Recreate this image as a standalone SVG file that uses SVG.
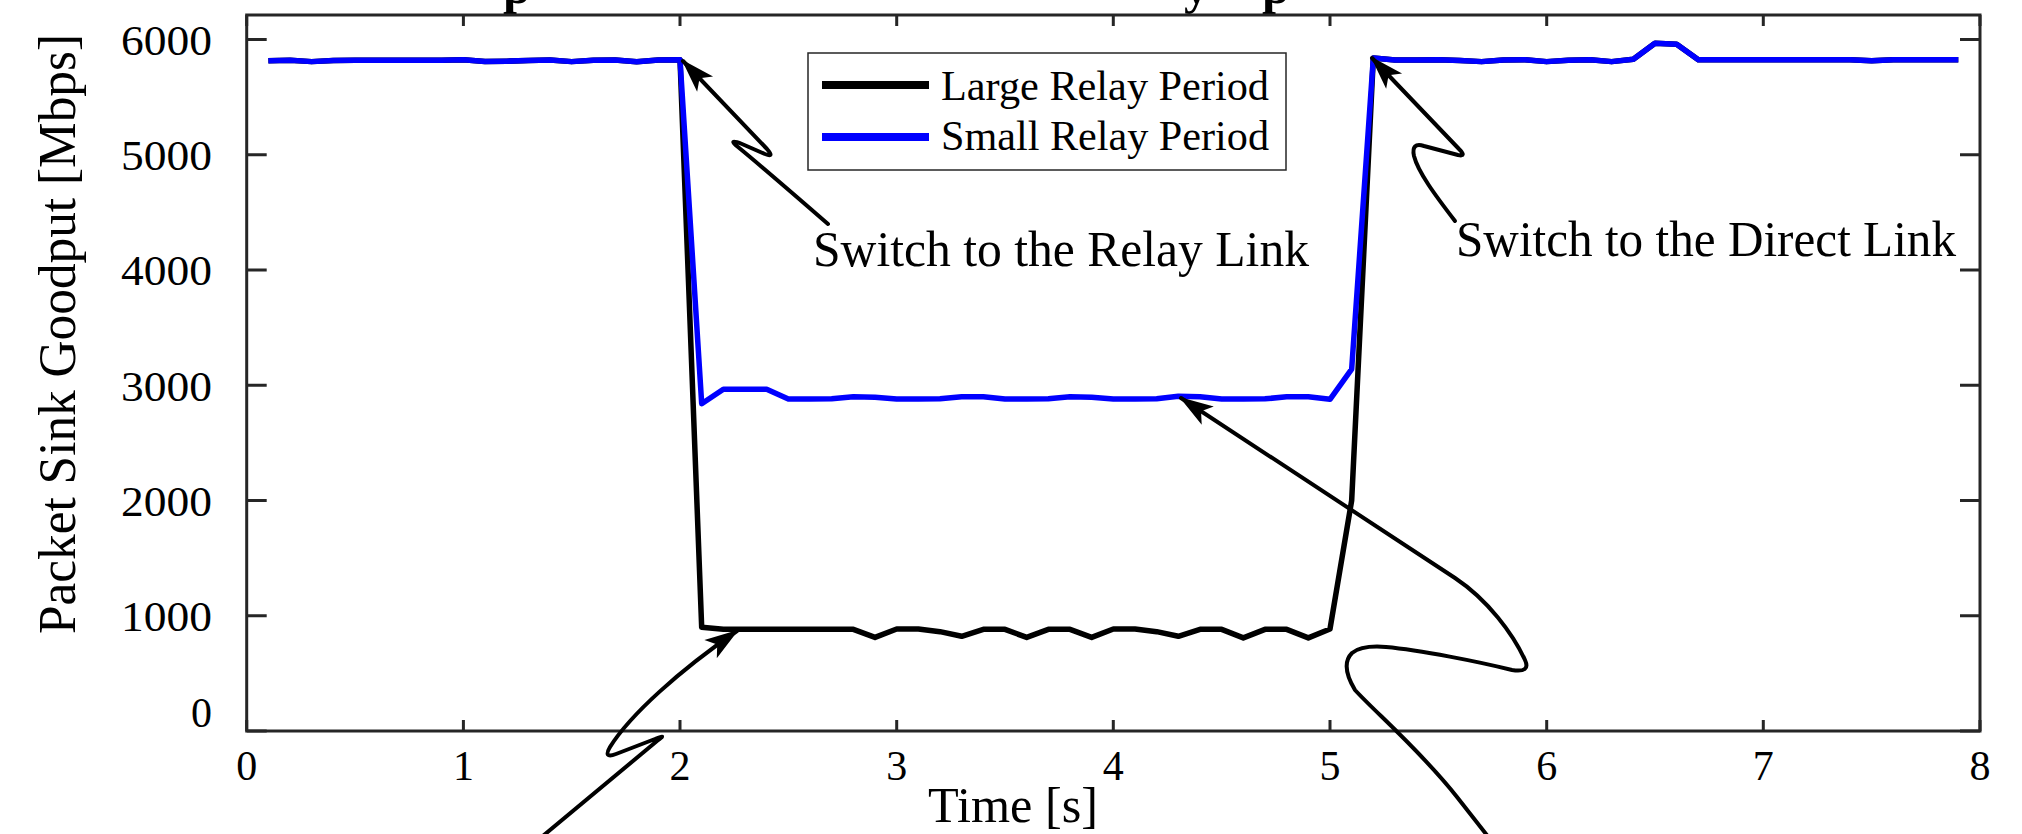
<svg xmlns="http://www.w3.org/2000/svg" width="2022" height="834" viewBox="0 0 2022 834">
<style>
.serif{font-family:"Liberation Serif","Times New Roman",serif;fill:#000}
.tick{font-size:42px}
.axis{stroke:#262626;stroke-width:3;fill:none}
.series{fill:none;stroke-linejoin:round;stroke-width:5.5}
.arrow{fill:none;stroke:#000;stroke-width:4;stroke-linejoin:round;stroke-linecap:round}
</style>
<defs>
<marker id="ah" markerUnits="userSpaceOnUse" viewBox="-34 -13 36 26" markerWidth="36" markerHeight="26" refX="0" refY="0" orient="auto">
<path d="M2,0 L-32,-11 L-24,0 L-32,11 Z" fill="#000"/>
</marker>
</defs>
<rect width="2022" height="834" fill="#fff"/>

<g id="title-fragment" class="serif" font-weight="bold" font-size="50">
<text x="503" y="3">p</text>
<text x="1184" y="3">y</text>
<text x="1262" y="3">p</text>
</g>

<g id="series">
<g transform="translate(246.7,731) scale(216.66,-0.11525)">
<polyline id="large-relay" class="series" stroke="#000" vector-effect="non-scaling-stroke" points="0.1,5815 0.2,5820 0.3,5808 0.4,5818 0.5,5820 0.6,5820 0.7,5820 0.8,5820 0.9,5820 1.0,5825 1.1,5810 1.2,5812 1.3,5818 1.4,5822 1.5,5808 1.6,5820 1.7,5822 1.8,5806 1.9,5822 2.0,5825 2.1,900 2.2,882 2.3,882 2.4,882 2.5,882 2.6,882 2.7,882 2.8,882 2.9,812 3.0,885 3.1,885 3.2,862 3.3,822 3.4,882 3.5,882 3.6,812 3.7,882 3.8,882 3.9,812 4.0,885 4.1,885 4.2,862 4.3,822 4.4,882 4.5,882 4.6,808 4.7,882 4.8,882 4.9,808 5.0,885 5.1,2000 5.2,5840 5.3,5822 5.4,5822 5.5,5825 5.6,5818 5.7,5808 5.8,5822 5.9,5825 6.0,5808 6.1,5820 6.2,5825 6.3,5808 6.4,5828 6.5,5968 6.6,5958 6.7,5825 6.8,5825 6.9,5825 7.0,5825 7.1,5825 7.2,5825 7.3,5825 7.4,5825 7.5,5815 7.6,5825 7.7,5825 7.8,5825 7.9,5825"/>
<polyline id="small-relay" class="series" stroke="#0000ff" vector-effect="non-scaling-stroke" points="0.1,5815 0.2,5820 0.3,5808 0.4,5818 0.5,5820 0.6,5820 0.7,5820 0.8,5820 0.9,5820 1.0,5825 1.1,5810 1.2,5812 1.3,5818 1.4,5822 1.5,5808 1.6,5820 1.7,5822 1.8,5806 1.9,5822 2.0,5825 2.1,2840 2.2,2965 2.3,2965 2.4,2965 2.5,2880 2.6,2880 2.7,2882 2.8,2900 2.9,2896 3.0,2880 3.1,2880 3.2,2882 3.3,2900 3.4,2900 3.5,2880 3.6,2880 3.7,2882 3.8,2900 3.9,2896 4.0,2880 4.1,2880 4.2,2882 4.3,2905 4.4,2900 4.5,2880 4.6,2880 4.7,2882 4.8,2900 4.9,2900 5.0,2878 5.1,3140 5.2,5840 5.3,5822 5.4,5822 5.5,5825 5.6,5818 5.7,5808 5.8,5822 5.9,5825 6.0,5808 6.1,5820 6.2,5825 6.3,5808 6.4,5828 6.5,5968 6.6,5958 6.7,5825 6.8,5825 6.9,5825 7.0,5825 7.1,5825 7.2,5825 7.3,5825 7.4,5825 7.5,5815 7.6,5825 7.7,5825 7.8,5825 7.9,5825"/>
</g>
</g>

<g id="axes">
<rect class="axis" x="246.7" y="15" width="1733.3" height="716"/>
<path class="axis" d="M246.7,731V720M463.4,731V720M680,731V720M896.7,731V720M1113.3,731V720M1330,731V720M1546.7,731V720M1763.3,731V720M1980,731V720
M246.7,15V26M463.4,15V26M680,15V26M896.7,15V26M1113.3,15V26M1330,15V26M1546.7,15V26M1763.3,15V26M1980,15V26
M246.7,731H266.7M246.7,615.75H266.7M246.7,500.5H266.7M246.7,385.25H266.7M246.7,270H266.7M246.7,154.75H266.7M246.7,39.5H266.7
M1980,731H1960M1980,615.75H1960M1980,500.5H1960M1980,385.25H1960M1980,270H1960M1980,154.75H1960M1980,39.5H1960"/>
</g>

<g id="y-ticklabels" class="serif tick" text-anchor="end">
<text x="212" y="55" textLength="91" lengthAdjust="spacingAndGlyphs">6000</text>
<text x="212" y="170" textLength="91" lengthAdjust="spacingAndGlyphs">5000</text>
<text x="212" y="285" textLength="91" lengthAdjust="spacingAndGlyphs">4000</text>
<text x="212" y="400.5" textLength="91" lengthAdjust="spacingAndGlyphs">3000</text>
<text x="212" y="515.5" textLength="91" lengthAdjust="spacingAndGlyphs">2000</text>
<text x="212" y="631" textLength="91" lengthAdjust="spacingAndGlyphs">1000</text>
<text x="212" y="727">0</text>
</g>

<g id="x-ticklabels" class="serif tick" text-anchor="middle">
<text x="246.7" y="780">0</text>
<text x="463.4" y="780">1</text>
<text x="680" y="780">2</text>
<text x="896.7" y="780">3</text>
<text x="1113.3" y="780">4</text>
<text x="1330" y="780">5</text>
<text x="1546.7" y="780">6</text>
<text x="1763.3" y="780">7</text>
<text x="1980" y="780">8</text>
</g>

<g id="axis-labels" class="serif">
<text x="928" y="822" font-size="50" textLength="170" lengthAdjust="spacingAndGlyphs">Time [s]</text>
<text transform="translate(75,634) rotate(-90)" font-size="53" textLength="600" lengthAdjust="spacingAndGlyphs">Packet Sink Goodput [Mbps]</text>
</g>

<g id="legend">
<rect x="808" y="53" width="478" height="117" fill="#fff" stroke="#262626" stroke-width="1.5"/>
<line x1="822" y1="85" x2="929" y2="85" stroke="#000" stroke-width="8"/>
<line x1="822" y1="137" x2="929" y2="137" stroke="#0000ff" stroke-width="8"/>
<text class="serif" x="941" y="100" font-size="42.5" textLength="328" lengthAdjust="spacingAndGlyphs">Large Relay Period</text>
<text class="serif" x="941" y="150" font-size="42.5" textLength="328" lengthAdjust="spacingAndGlyphs">Small Relay Period</text>
</g>

<g id="annotation-relay">
<text class="serif" x="813" y="266" font-size="50" textLength="496" lengthAdjust="spacingAndGlyphs">Switch to the Relay Link</text>
</g>
<g id="annotation-direct">
<text class="serif" x="1456" y="256" font-size="50" textLength="500" lengthAdjust="spacingAndGlyphs">Switch to the Direct Link</text>
</g>

<g id="connectors">
<path class="arrow" marker-end="url(#ah)" d="M828,224 C805,204 760,165 738,147 Q727,138 742,144 L765,154 Q775,158 767,149 L683,61"/>
<path class="arrow" marker-end="url(#ah)" d="M1455,221 C1435,195 1418,172 1414,156 Q1411,142 1424,146 L1458,155 Q1467,157 1459,149 L1372,58"/>
<path class="arrow" marker-end="url(#ah)" d="M526,850 L657,741 Q668,733 655,739 L616,754 Q603,759 610,747 C630,715 680,670 737,631"/>
<path class="arrow" marker-end="url(#ah)" d="M1497,848 L1457,797 C1420,750 1375,712 1355,690 Q1340,665 1352,653 Q1362,645 1386,647 C1420,650 1480,662 1512,670 Q1531,673 1525,660 C1513,634 1488,600 1455,578 L1181,398"/>
</g>
</svg>
